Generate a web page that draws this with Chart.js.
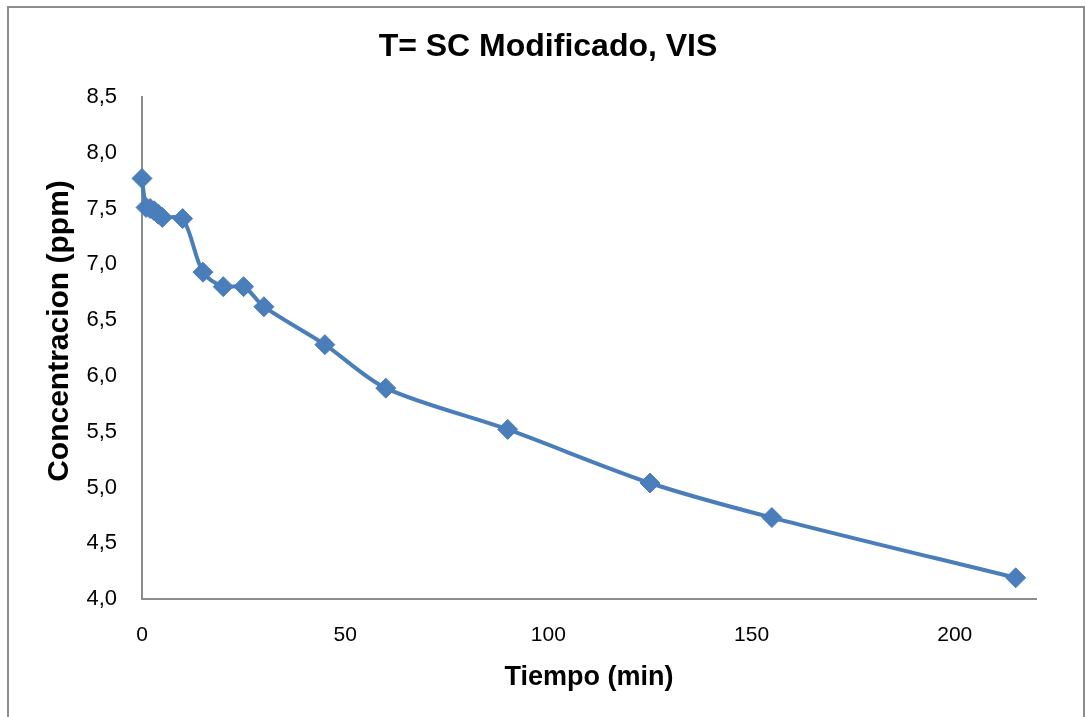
<!DOCTYPE html>
<html>
<head>
<meta charset="utf-8">
<script src="https://cdn.jsdelivr.net/npm/chart.js@4/dist/chart.umd.min.js"></script>
<style>
  html, body { margin: 0; padding: 0; background: #fff; overflow: hidden; }
  #wrap { position: relative; width: 1086px; height: 717px; }
  #frame { position: absolute; left: 7px; top: 6px; width: 1078px; height: 800px; box-sizing: border-box; border: 2px solid #8c8c8c; border-bottom: none; pointer-events: none; }
  canvas { position: absolute; left: 0; top: 0; }
</style>
</head>
<body>
<div id="wrap">
  <canvas id="c" width="1086" height="717"></canvas>
  <div id="frame"></div>
</div>
<script>
const chartTitle = 'T= SC Modificado, VIS';
const xTitle = 'Tiempo (min)';
const yTitle = 'Concentracion (ppm)';
const tiempo = [0, 1, 2, 3, 4, 5, 10, 15, 20, 25, 30, 45, 60, 90, 125, 155, 215];
const concentracion = [7.77, 7.51, 7.50, 7.48, 7.45, 7.42, 7.41, 6.93, 6.80, 6.80, 6.62, 6.28, 5.89, 5.52, 5.04, 4.73, 4.19];
const xTicks = [0, 50, 100, 150, 200];
const yTicks = [4.0, 4.5, 5.0, 5.5, 6.0, 6.5, 7.0, 7.5, 8.0, 8.5];

const points = tiempo.map((t, i) => ({ x: t, y: concentracion[i] }));
const blue = '#4A7EBB';
const axisGray = '#8c8c8c';

// Draws the chart title and the vertical axis title as canvas text at the reference positions
const textPlugin = {
  id: 'textPlugin',
  afterDraw(chart) {
    const ctx = chart.ctx;
    ctx.save();
    ctx.fillStyle = '#000';
    ctx.textAlign = 'center';
    ctx.textBaseline = 'middle';
    ctx.font = 'bold 32px "Liberation Sans"';
    ctx.fillText(chartTitle, 548, 47);
    ctx.translate(60, 331);
    ctx.rotate(-Math.PI / 2);
    ctx.font = 'bold 30px "Liberation Sans"';
    ctx.fillText(yTitle, 0, 0);
    ctx.restore();
  }
};

new Chart(document.getElementById('c'), {
  type: 'line',
  data: {
    datasets: [{
      data: points,
      borderColor: blue,
      backgroundColor: blue,
      borderWidth: 4,
      tension: 0.3,
      pointStyle: 'rectRot',
      pointRadius: 10,
      pointBorderWidth: 1,
      pointBorderColor: blue,
      pointBackgroundColor: blue,
      fill: false,
      clip: false
    }]
  },
  plugins: [textPlugin],
  options: {
    responsive: false,
    animation: false,
    layout: { padding: { left: 0, right: 50, top: 97, bottom: 0 } },
    plugins: {
      legend: { display: false },
      tooltip: { enabled: false },
      title: { display: false }
    },
    scales: {
      x: {
        type: 'linear',
        min: 0,
        max: 220,
        grid: { display: false, drawTicks: false },
        border: { display: true, color: axisGray, width: 2 },
        afterBuildTicks: (s) => { s.ticks = xTicks.map(v => ({ value: v })); },
        ticks: {
          color: '#000',
          font: { family: 'Liberation Sans', size: 21 },
          padding: 24,
          maxRotation: 0
        },
        title: {
          display: true,
          text: xTitle,
          color: '#000',
          font: { family: 'Liberation Sans', size: 27, weight: 'bold' },
          padding: { top: 0, bottom: 23 }
        },
        afterFit: (s) => { s.height = 118; }
      },
      y: {
        type: 'linear',
        min: 4,
        max: 8.5,
        grid: { display: false, drawTicks: false },
        border: { display: true, color: axisGray, width: 2 },
        afterBuildTicks: (s) => { s.ticks = yTicks.map(v => ({ value: v })); },
        ticks: {
          color: '#000',
          font: { family: 'Liberation Sans', size: 22 },
          padding: 25,
          callback: (v) => Number(v).toFixed(1).replace('.', ',')
        },
        title: { display: false },
        afterFit: (s) => { s.width = 142; }
      }
    }
  }
});
</script>
</body>
</html>
